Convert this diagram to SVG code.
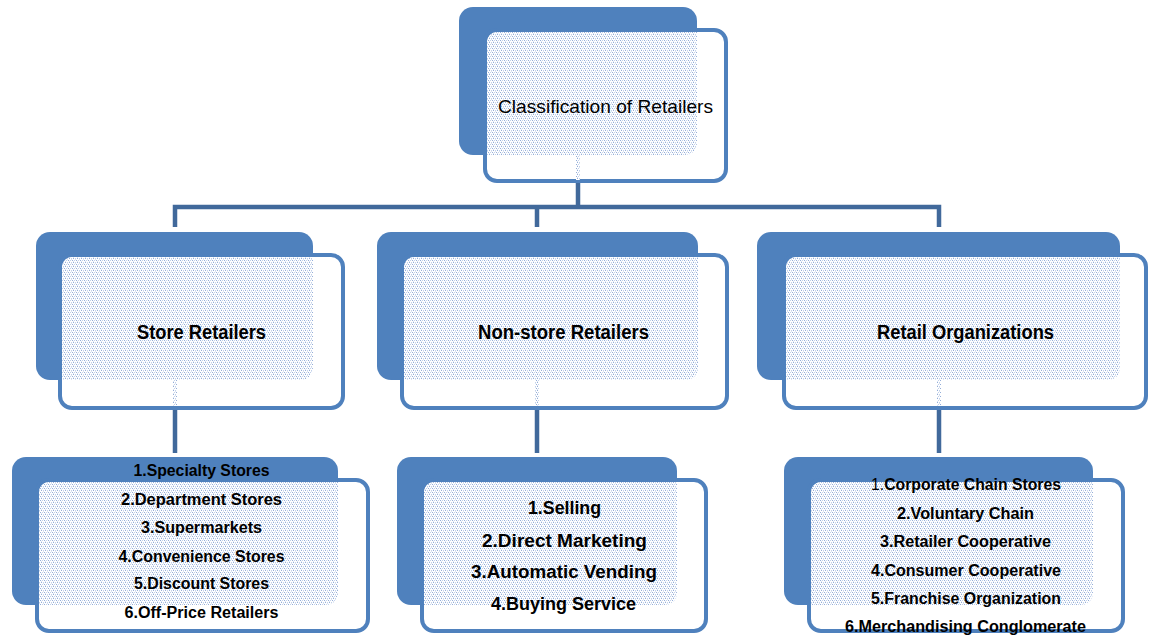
<svg xmlns="http://www.w3.org/2000/svg" width="1150" height="635" viewBox="0 0 1150 635">
<defs>
<pattern id="dots" width="4" height="4" patternUnits="userSpaceOnUse">
<rect width="4" height="4" fill="#ffffff"/>
<rect x="0" y="0" width="1" height="1" fill="#95aed8"/>
<rect x="2" y="0" width="1" height="1" fill="#c2d1ea"/>
<rect x="1" y="1" width="1" height="1" fill="#dbe4f3"/>
<rect x="1" y="2" width="1" height="1" fill="#95aed8"/>
<rect x="3" y="2" width="1" height="1" fill="#c2d1ea"/>
<rect x="3" y="3" width="1" height="1" fill="#dbe4f3"/>
</pattern>
</defs>
<style>
.back{fill:#4f81bd}
.front{fill:#ffffff;stroke:#4f81bd;stroke-width:4}
.pat{fill:url(#dots)}
.conn{fill:none;stroke:#41699b;stroke-width:4.5}
.t1{font-family:"Liberation Sans",Arial,sans-serif;font-size:19px;fill:#000;text-anchor:middle}
.t2{font-family:"Liberation Sans",Arial,sans-serif;font-size:19.5px;font-weight:bold;fill:#000;text-anchor:middle}
.t3{font-family:"Liberation Sans",Arial,sans-serif;font-size:16px;font-weight:bold;fill:#000;text-anchor:middle}
.t3m{font-family:"Liberation Sans",Arial,sans-serif;font-size:17.5px;font-weight:bold;fill:#000;text-anchor:middle}
.nb{font-weight:normal}
</style>
<rect width="1150" height="635" fill="#ffffff"/>
<g id="connectors">
<path class="conn" d="M578,183 V207 M175,227 V207 H939 V227 M537,207 V227"/>
<path class="conn" d="M175,409 V453 M537,409 V453 M939,409 V453"/>
</g>
<g id="root">
<rect class="back" x="459" y="7" width="238" height="148" rx="14"/>
<rect class="front" x="485" y="30" width="241" height="151" rx="12"/>
<path class="pat" d="M487,44 Q487,32 499,32 H697 V141 Q697,155 683,155 H487 Z"/>
<rect class="pat" x="576" y="155" width="4" height="25"/>
<text class="t1" x="605.5" y="113" textLength="215" lengthAdjust="spacingAndGlyphs">Classification of Retailers</text>
</g>
<g id="store">
<rect class="back" x="36" y="232" width="277" height="148" rx="14"/>
<rect class="front" x="60" y="255" width="283" height="153" rx="12"/>
<path class="pat" d="M62,269 Q62,257 74,257 H313 V366 Q313,380 299,380 H62 Z"/>
<rect class="pat" x="173" y="380" width="4" height="26"/>
<text class="t2" x="201.5" y="338.5" textLength="129" lengthAdjust="spacingAndGlyphs">Store Retailers</text>
</g>
<g id="nonstore">
<rect class="back" x="377" y="232" width="321" height="148" rx="14"/>
<rect class="front" x="402" y="255" width="325" height="153" rx="12"/>
<path class="pat" d="M404,269 Q404,257 416,257 H698 V366 Q698,380 684,380 H404 Z"/>
<rect class="pat" x="535" y="380" width="4" height="26"/>
<text class="t2" x="563.5" y="338.5" textLength="171" lengthAdjust="spacingAndGlyphs">Non-store Retailers</text>
</g>
<g id="retailorg">
<rect class="back" x="757" y="232" width="363" height="148" rx="14"/>
<rect class="front" x="784" y="255" width="362" height="153" rx="12"/>
<path class="pat" d="M786,269 Q786,257 798,257 H1120 V366 Q1120,380 1106,380 H786 Z"/>
<rect class="pat" x="937" y="380" width="4" height="26"/>
<text class="t2" x="965.5" y="338.5" textLength="177" lengthAdjust="spacingAndGlyphs">Retail Organizations</text>
</g>
<g id="storelist">
<rect class="back" x="12" y="457" width="326" height="148" rx="14"/>
<rect class="front" x="37" y="480" width="331" height="151" rx="12"/>
<path class="pat" d="M39,494 Q39,482 51,482 H338 V591 Q338,605 324,605 H39 Z"/>
<text class="t3" x="201.5" y="476" textLength="136" lengthAdjust="spacingAndGlyphs">1.Specialty Stores</text>
<text class="t3" x="201.5" y="505" textLength="161" lengthAdjust="spacingAndGlyphs">2.Department Stores</text>
<text class="t3" x="201.5" y="533" textLength="121" lengthAdjust="spacingAndGlyphs">3.Supermarkets</text>
<text class="t3" x="201.5" y="562" textLength="166" lengthAdjust="spacingAndGlyphs">4.Convenience Stores</text>
<text class="t3" x="201.5" y="589" textLength="135" lengthAdjust="spacingAndGlyphs">5.Discount Stores</text>
<text class="t3" x="201.5" y="618" textLength="154" lengthAdjust="spacingAndGlyphs">6.Off-Price Retailers</text>
</g>
<g id="nonstorelist">
<rect class="back" x="397" y="457" width="280" height="148" rx="14"/>
<rect class="front" x="422" y="480" width="284" height="151" rx="12"/>
<path class="pat" d="M424,494 Q424,482 436,482 H677 V591 Q677,605 663,605 H424 Z"/>
<text class="t3m" x="564.5" y="514" textLength="73" lengthAdjust="spacingAndGlyphs">1.Selling</text>
<text class="t3m" x="564.5" y="547" textLength="165" lengthAdjust="spacingAndGlyphs">2.Direct Marketing</text>
<text class="t3m" x="564" y="578" textLength="186" lengthAdjust="spacingAndGlyphs">3.Automatic Vending</text>
<text class="t3m" x="563.5" y="610" textLength="145" lengthAdjust="spacingAndGlyphs">4.Buying Service</text>
</g>
<g id="orglist">
<rect class="back" x="784" y="457" width="309" height="148" rx="14"/>
<rect class="front" x="809" y="480" width="314" height="151" rx="12"/>
<path class="pat" d="M811,494 Q811,482 823,482 H1093 V591 Q1093,605 1079,605 H811 Z"/>
<text class="t3" x="966" y="490" textLength="190" lengthAdjust="spacingAndGlyphs"><tspan class="nb">1.</tspan>Corporate Chain Stores</text>
<text class="t3" x="965.5" y="519" textLength="137" lengthAdjust="spacingAndGlyphs">2.Voluntary Chain</text>
<text class="t3" x="965.5" y="547" textLength="171" lengthAdjust="spacingAndGlyphs">3.Retailer Cooperative</text>
<text class="t3" x="966" y="576" textLength="190" lengthAdjust="spacingAndGlyphs">4.Consumer Cooperative</text>
<text class="t3" x="966" y="604" textLength="190" lengthAdjust="spacingAndGlyphs">5.Franchise Organization</text>
<text class="t3" x="965.5" y="632" textLength="241" lengthAdjust="spacingAndGlyphs">6.Merchandising Conglomerate</text>
</g>
</svg>
